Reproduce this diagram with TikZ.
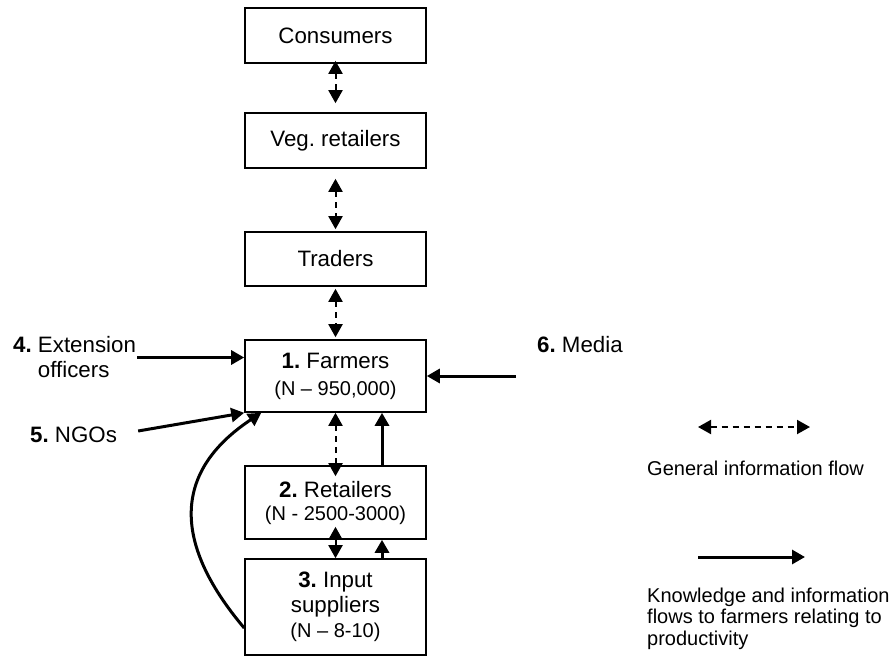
\documentclass[tikz,border=0pt]{standalone}
\usepackage{fontspec}
\setmainfont{Liberation Sans}
\usetikzlibrary{arrows.meta}
\frenchspacing
\newcommand{\subtxt}[1]{{\fontsize{20}{25}\selectfont #1}}
\begin{document}
\begin{tikzpicture}[
        x=1pt, y=-1pt,
        box/.style = {draw=black, line width=1.6pt, minimum width=181pt, minimum height=#1, align=center, inner sep=0pt, font=\fontsize{22.3}{25}\selectfont},
        box/.default = 55pt,
        lbl/.style = {align=left, inner sep=1pt, anchor=west, font=\fontsize{22.3}{25}\selectfont},
        legend/.style = {align=left, inner sep=0pt, anchor=west, font=\fontsize{20}{21.5}\selectfont},
        info/.style = {<->, line width=2pt, dash pattern=on 6pt off 5pt},
        know/.style = {->, line width=3pt},
        >={Triangle[length=13pt, width=14pt]}
        ]
        \useasboundingbox (0,0) rectangle (892,656);

        \node (cons) at (335.5,35.5)   [box] {Consumers};
        \node (veg) at (335.5,140.5)   [box] {Veg. retailers};
        \node (trad) at (335.5,259)    [box=54pt] {Traders};
        \node (farm) at (335.5,376)    [box=72pt] {\textbf{1.} Farmers\\[2pt]\subtxt{(N – 950,000)}};
        \node (ret) at (335.5,502.5)   [box=73pt] {\textbf{2.} Retailers\\[-2pt]\subtxt{(N - 2500-3000)}};
        \node (inp) at (335.5,607)     [box=96pt] {\textbf{3.} Input\\suppliers\\\subtxt{(N – 8-10)}};

        \node (ext) at (12,357.5)      [lbl] {\textbf{4.} Extension\\\hphantom{\textbf{4.} }officers};
        \node (ngo) at (29,435)        [lbl] {\textbf{5.} NGOs};
        \node (media) at (536,345)     [lbl] {\textbf{6.} Media};
        \coordinate (mtail) at (516,376);

        \draw[info, shorten <=-3pt, shorten >=9pt] (cons) -- (veg);
        \draw[info, shorten <=10pt, shorten >=2pt] (veg) -- (trad);
        \draw[info, shorten <=2pt, shorten >=2pt] (trad) -- (farm);
        \draw[info, shorten >=-11pt] (farm) -- (ret);
        \draw[info, shorten <=-13pt] (ret) -- (inp);

        \draw[know] (ext.east) -- (farm.west |- ext.east);
        \draw[know] ([xshift=20pt,yshift=4pt]ngo.east) -- (farm.south west);
        \draw[know] (mtail) -- (farm.east);
        \draw[know] ([xshift=46.5pt]ret.north) -- ([xshift=46.5pt]farm.south);
        \draw[know] ([xshift=46.5pt]inp.north) -- ([xshift=46.5pt]ret.south);
        \draw[know] ([yshift=-21pt]inp.west) .. controls (170,540) and (175,470) .. ([xshift=17pt]farm.south west);

        \coordinate (ga) at (698,427);
        \coordinate (gb) at (810,427);
        \draw[info] (ga) -- (gb);
        \node (gtxt) at (647,468)      [legend] {General information flow};
        \coordinate (ka) at (698,557);
        \coordinate (kb) at (805,557);
        \draw[know] (ka) -- (kb);
        \node (ktxt) at (647,618.5)    [legend] {Knowledge and information\\flows to farmers relating to\\productivity};

    \end{tikzpicture}
\end{document}
